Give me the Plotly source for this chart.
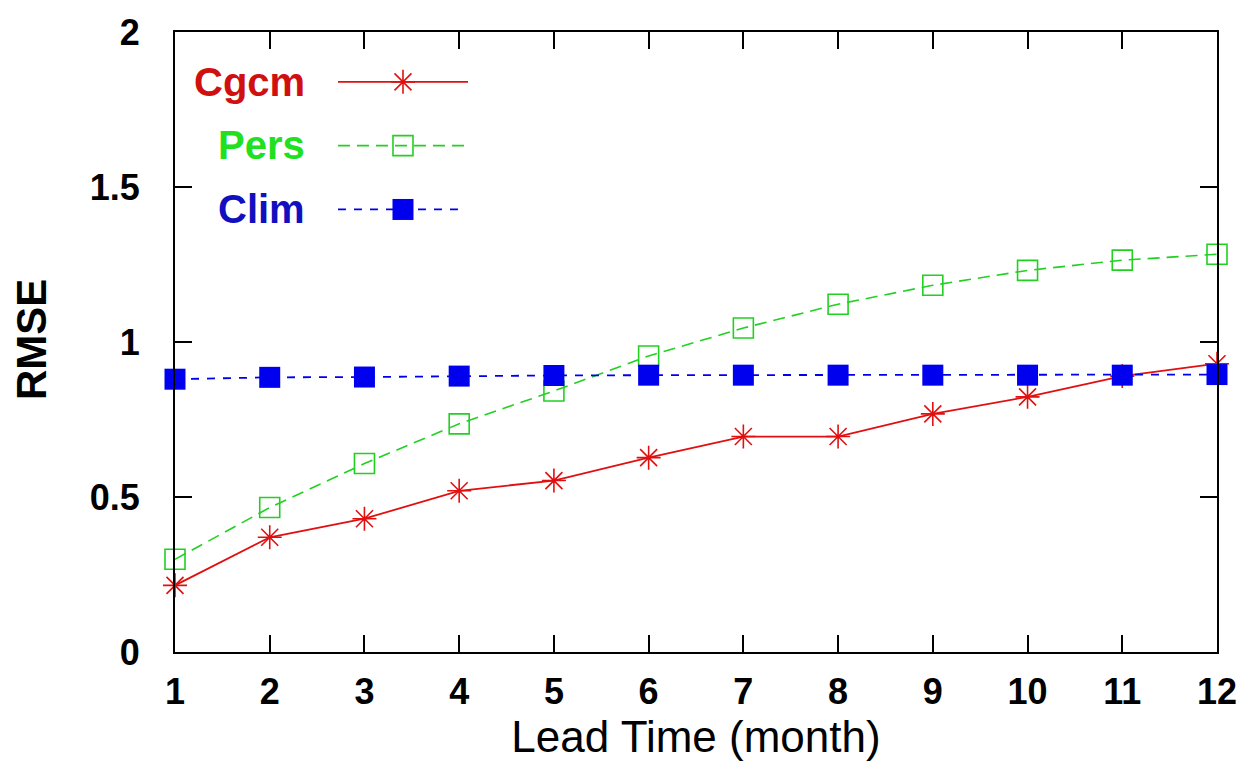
import plotly.graph_objects as go

lead_time = [1, 2, 3, 4, 5, 6, 7, 8, 9, 10, 11, 12]
cgcm = [0.215, 0.37, 0.43, 0.52, 0.553, 0.627, 0.695, 0.695, 0.768, 0.823, 0.89, 0.93]
pers = [0.299, 0.466, 0.608, 0.736, 0.842, 0.955, 1.045, 1.122, 1.183, 1.231, 1.264, 1.283]
clim = [0.88, 0.886, 0.887, 0.89, 0.892, 0.893, 0.893, 0.893, 0.893, 0.893, 0.893, 0.895]

series_names = ["Cgcm", "Pers", "Clim"]
x_ticks = lead_time
y_ticks = [0, 0.5, 1, 1.5, 2]
y_tick_text = ["0", "0.5", "1", "1.5", "2"]

RED = "#e01010"
GREEN = "#22d022"
BLUE = "#0000ee"
TXT_RED = "#d01010"
TXT_GREEN = "#20e020"
TXT_BLUE = "#1010c0"
FONT = "Liberation Sans, Arial, sans-serif"

styles = {
    "Cgcm": dict(line=dict(color=RED, width=1.8, dash="solid"),
                 marker=dict(symbol="asterisk-open", size=20, color=RED, line=dict(color=RED, width=1.6))),
    "Pers": dict(line=dict(color=GREEN, width=1.6, dash="12px,7px"),
                 marker=dict(symbol="square-open", size=20, color=GREEN, line=dict(color=GREEN, width=1.6))),
    "Clim": dict(line=dict(color=BLUE, width=1.8, dash="8px,8px"),
                 marker=dict(symbol="square", size=21, color=BLUE, line=dict(color=BLUE, width=0))),
}
data = {"Cgcm": cgcm, "Pers": pers, "Clim": clim}

fig = go.Figure()
for name in series_names:
    fig.add_trace(go.Scatter(x=lead_time, y=data[name], mode="lines+markers", name=name,
                             showlegend=False, cliponaxis=False, **styles[name]))

# gnuplot-style key (text on the left, sample on the right) drawn on an overlay axis
key_rows = {"Cgcm": 2, "Pers": 1, "Clim": 0}
key_ends = {"Cgcm": 2.0, "Pers": 2.0, "Clim": 1.85}
for name in series_names:
    st = styles[name]
    yk = key_rows[name]
    fig.add_trace(go.Scatter(x=[0, 1, key_ends[name]], y=[yk, yk, yk], mode="lines", xaxis="x2", yaxis="y2",
                             showlegend=False, line=st["line"], hoverinfo="skip", cliponaxis=False))
    fig.add_trace(go.Scatter(x=[1], y=[yk], mode="markers", xaxis="x2", yaxis="y2",
                             showlegend=False, marker=st["marker"], hoverinfo="skip", cliponaxis=False))

key_text_colors = {"Cgcm": TXT_RED, "Pers": TXT_GREEN, "Clim": TXT_BLUE}
key_text_y = {"Cgcm": 0.9196, "Pers": 0.8183, "Clim": 0.7138}
for name in series_names:
    fig.add_annotation(x=0.1267, y=key_text_y[name], xref="paper", yref="paper", text=name,
                       showarrow=False, xanchor="right", yanchor="middle",
                       font=dict(family=FONT, size=40, weight="bold", color=key_text_colors[name]))

# y-axis title placed like the original
fig.add_annotation(x=-0.1382, y=0.5048, xref="paper", yref="paper", text="RMSE", textangle=-90,
                   showarrow=False, xanchor="center", yanchor="middle",
                   font=dict(family=FONT, size=42, weight="bold", color="black"))

fig.update_layout(
    width=1253, height=781,
    margin=dict(l=175, r=36, t=30, b=129),
    paper_bgcolor="white", plot_bgcolor="white",
    font=dict(family=FONT, color="black"),
    showlegend=False,
    xaxis=dict(range=[1, 12], tickvals=x_ticks, ticktext=[str(v) for v in x_ticks],
               ticks="inside", ticklen=17, tickwidth=1.5, tickcolor="black",
               showline=True, linecolor="black", linewidth=2, mirror="ticks",
               showgrid=False, zeroline=False, ticklabelstandoff=7,
               tickfont=dict(family=FONT, size=36, weight="bold", color="black"),
               title=dict(text="Lead Time (month)", standoff=0,
                          font=dict(family=FONT, size=44, color="black"))),
    yaxis=dict(range=[0, 2], tickvals=y_ticks, ticktext=y_tick_text,
               ticks="inside", ticklen=17, tickwidth=1.5, tickcolor="black",
               showline=True, linecolor="black", linewidth=2, mirror="ticks",
               showgrid=False, zeroline=False,
               tickfont=dict(family=FONT, size=36, weight="bold", color="black"),
               ticklabelstandoff=26),
    xaxis2=dict(domain=[0.1564, 0.2812], range=[0, 2], visible=False, fixedrange=True, anchor="y2"),
    yaxis2=dict(domain=[0.6623, 0.9711], range=[-0.5, 2.5], visible=False, fixedrange=True, anchor="x2"),
)

fig.write_html("out.html")
